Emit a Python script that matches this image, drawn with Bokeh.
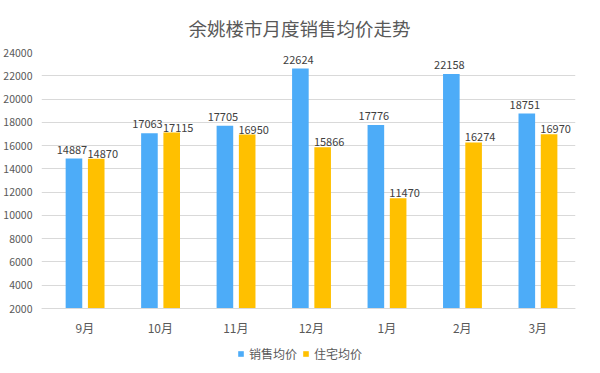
from bokeh.plotting import figure
from bokeh.models import Range1d, FixedTicker, Legend, LegendItem, ColumnDataSource
from bokeh.transform import dodge
from bokeh.core.properties import value
from bokeh.embed import file_html
from bokeh.resources import INLINE

months = ["9月", "10月", "11月", "12月", "1月", "2月", "3月"]
sales_avg = [14887, 17063, 17705, 22624, 17776, 22158, 18751]
house_avg = [14870, 17115, 16950, 15866, 11470, 16274, 16970]
y_ticks = [2000, 4000, 6000, 8000, 10000, 12000, 14000, 16000, 18000, 20000, 22000, 24000]
series_names = ["销售均价", "住宅均价"]
title_text = "余姚楼市月度销售均价走势"

FONT = "Noto Sans CJK SC"
BLUE = "#4DACF8"
YELLOW = "#FFC000"

xs = list(range(len(months)))
src = ColumnDataSource(dict(
    x=xs,
    sales=sales_avg,
    house=house_avg,
    sales_txt=[str(v) for v in sales_avg],
    house_txt=[str(v) for v in house_avg],
))

# frame extends below the 2000 baseline to leave room for the axis labels and legend
p = figure(width=584, height=365, output_backend="svg", toolbar_location=None,
           x_range=Range1d(-0.575, len(months) - 0.5),
           y_range=Range1d(-2898, y_ticks[-1]),
           min_border_left=34, min_border_right=9, min_border_top=52, min_border_bottom=0)

p.title.text = title_text
p.title.align = "left"
p.title.text_font = FONT
p.title.text_font_size = "18.5px"
p.title.text_font_style = "normal"
p.title.text_color = "#595959"
p.title.offset = 147
p.title.standoff = 24

r1 = p.vbar(x=dodge("x", -0.145, range=p.x_range), top="sales", bottom=y_ticks[0], width=0.22,
            source=src, fill_color=BLUE, line_color=None)
r2 = p.vbar(x=dodge("x", 0.150, range=p.x_range), top="house", bottom=y_ticks[0], width=0.22,
            source=src, fill_color=YELLOW, line_color=None)

p.text(x=dodge("x", -0.145, range=p.x_range), y="sales", text="sales_txt", source=src,
       text_align="center", text_baseline="alphabetic", y_offset=-9, x_offset=-2,
       text_font=value(FONT), text_font_size="11px", text_color="#404040")
p.text(x=dodge("x", 0.150, range=p.x_range), y="house", text="house_txt", source=src,
       text_align="center", text_baseline="alphabetic", y_offset=-5, x_offset=6.5,
       text_font=value(FONT), text_font_size="11px", text_color="#404040")

p.xaxis.fixed_location = y_ticks[0]
p.xaxis.ticker = FixedTicker(ticks=xs)
p.xaxis.major_label_overrides = {i: m for i, m in zip(xs, months)}
p.xaxis.axis_line_color = "#D9D9D9"
p.xaxis.major_tick_line_color = None
p.xaxis.minor_tick_line_color = None
p.xaxis.major_label_text_font = FONT
p.xaxis.major_label_text_font_size = "12px"
p.xaxis.major_label_text_color = "#595959"
p.xaxis.major_label_standoff = 4

p.yaxis.ticker = FixedTicker(ticks=y_ticks)
p.yaxis.axis_line_color = None
p.yaxis.major_tick_line_color = None
p.yaxis.minor_tick_line_color = None
p.yaxis.major_label_text_font = FONT
p.yaxis.major_label_text_font_size = "10.5px"
p.yaxis.major_label_text_color = "#595959"
p.yaxis.major_label_standoff = 3

p.xgrid.grid_line_color = None
p.ygrid.grid_line_color = "#D9D9D9"
p.outline_line_color = None

legend = Legend(items=[LegendItem(label=series_names[0], renderers=[r1]),
                       LegendItem(label=series_names[1], renderers=[r2])],
                orientation="horizontal", location=(196, 3),
                label_text_font=FONT, label_text_font_size="12px", label_text_color="#595959",
                glyph_width=7, glyph_height=7, label_standoff=5, spacing=5,
                padding=0, margin=0, border_line_color=None, background_fill_alpha=0,
                label_height=12)
p.add_layout(legend, "center")

open("out.html", "w").write(file_html(p, INLINE))
